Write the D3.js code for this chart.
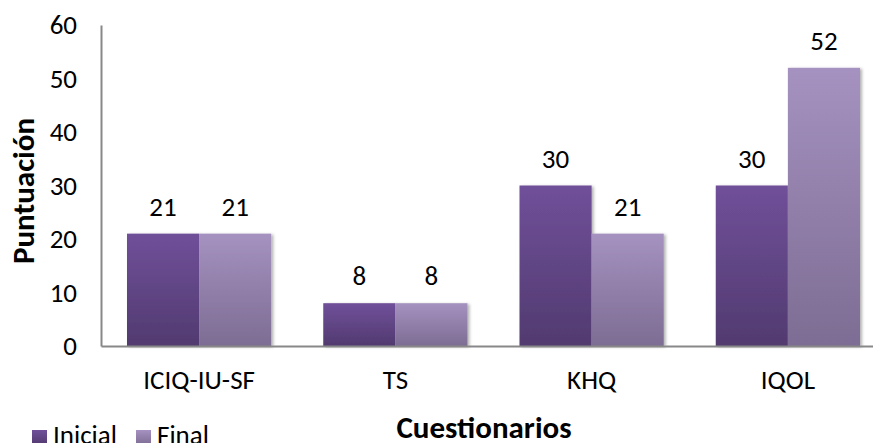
<!DOCTYPE html>
<html>
<head>
<meta charset="utf-8">
<script src="https://cdn.jsdelivr.net/npm/d3@7"></script>
<style>
  html, body { margin: 0; padding: 0; background: #fff; }
  svg { display: block; }
  svg text { font-family: Carlito, Lato, "Liberation Sans", sans-serif; fill: #000; }
</style>
</head>
<body>
<svg id="chart" width="873" height="443"></svg>
<script>
// Questionnaire scores, initial vs. final
const categories = ["ICIQ-IU-SF", "TS", "KHQ", "IQOL"];
const seriesNames = ["Inicial", "Final"];
const inicial = [21, 8, 30, 30];
const final = [21, 8, 21, 52];
const yTicks = [0, 10, 20, 30, 40, 50, 60];

const svg = d3.select("#chart");
const plot = { left: 101, right: 886, top: 25, bottom: 346 };
const FS = 27;      // regular text size
const FS_B = 31;    // bold axis titles

const defs = svg.append("defs");
const gradients = [
  { id: "gInicial", top: "#70509a", bottom: "#513a6f" },
  { id: "gFinal", top: "#a592c0", bottom: "#7d6c93" }
];
gradients.forEach(g => {
  const lg = defs.append("linearGradient")
    .attr("id", g.id).attr("x1", 0).attr("y1", 0).attr("x2", 0).attr("y2", 1);
  lg.append("stop").attr("offset", "0%").attr("stop-color", g.top);
  lg.append("stop").attr("offset", "100%").attr("stop-color", g.bottom);
});
const shadow = defs.append("filter").attr("id", "shadow")
  .attr("x", "-10%").attr("y", "-10%").attr("width", "130%").attr("height", "120%");
shadow.append("feDropShadow").attr("dx", 2).attr("dy", 1).attr("stdDeviation", 1.5)
  .attr("flood-color", "#000").attr("flood-opacity", 0.3);

const x = d3.scaleBand().domain(categories).range([plot.left, plot.right])
  .paddingInner(0.265).paddingOuter(0.1325);
const xs = d3.scaleBand().domain(seriesNames).range([0, x.bandwidth()]);
const y = d3.scaleLinear().domain([0, 60]).range([plot.bottom, plot.top]);

const data = categories.map((c, i) => ({ cat: c, values: [inicial[i], final[i]] }));
const fills = ["url(#gInicial)", "url(#gFinal)"];

// bars
const groups = svg.append("g").selectAll("g").data(data).join("g")
  .attr("transform", d => `translate(${x(d.cat)},0)`);
groups.selectAll("rect")
  .data(d => d.values.map((v, j) => ({ v, s: seriesNames[j], j })))
  .join("rect")
  .attr("x", d => xs(d.s))
  .attr("y", d => y(d.v))
  .attr("width", xs.bandwidth())
  .attr("height", d => y(0) - y(d.v))
  .attr("fill", d => fills[d.j])
  .attr("filter", "url(#shadow)");

// value labels
groups.selectAll("text.val")
  .data(d => d.values.map((v, j) => ({ v, s: seriesNames[j] })))
  .join("text")
  .attr("class", "val")
  .attr("x", d => xs(d.s) + xs.bandwidth() / 2)
  .attr("y", d => y(d.v) - 18)
  .attr("text-anchor", "middle")
  .attr("font-size", FS)
  .text(d => d.v);

// axes
const yAxis = svg.append("g").attr("transform", `translate(${plot.left},0)`)
  .call(d3.axisLeft(y).tickValues(yTicks).tickSize(0).tickPadding(24));
yAxis.attr("font-family", null).attr("font-size", null);
yAxis.select(".domain").attr("stroke", "#888").attr("stroke-width", 2);
yAxis.selectAll("text").attr("font-size", FS).attr("dy", "0.32em");

const xAxis = svg.append("g").attr("transform", `translate(0,${plot.bottom})`)
  .call(d3.axisBottom(x).tickSize(0));
xAxis.attr("font-family", null).attr("font-size", null);
xAxis.select(".domain").attr("stroke", "#888").attr("stroke-width", 2);
xAxis.selectAll("text").attr("font-size", FS).attr("y", 43).attr("dy", null);

// axis titles
svg.append("text")
  .attr("transform", `translate(34,191) rotate(-90)`)
  .attr("text-anchor", "middle")
  .attr("font-size", FS_B).attr("font-weight", "bold")
  .text("Puntuación");
svg.append("text")
  .attr("x", 484).attr("y", 438)
  .attr("text-anchor", "middle")
  .attr("font-size", FS_B).attr("font-weight", "bold")
  .text("Cuestionarios");

// legend
const legendX = [32, 136];
const legend = svg.append("g").selectAll("g").data(seriesNames).join("g")
  .attr("transform", (d, i) => `translate(${legendX[i]},430)`);
legend.append("rect").attr("width", 15).attr("height", 15)
  .attr("fill", (d, i) => fills[i]);
legend.append("text").attr("x", 21).attr("y", 14)
  .attr("font-size", FS)
  .text(d => d);
</script>
</body>
</html>
